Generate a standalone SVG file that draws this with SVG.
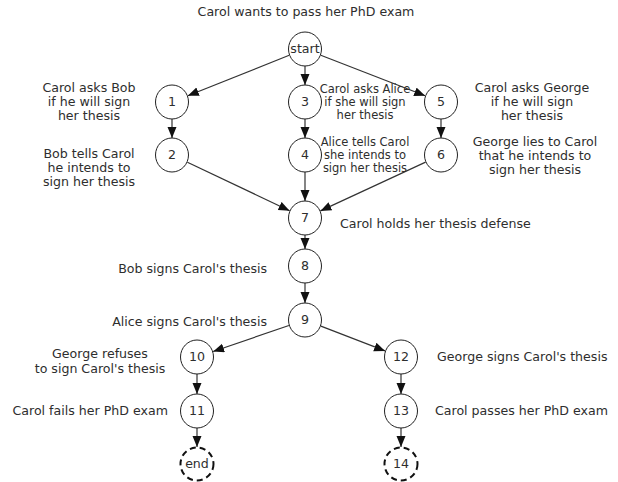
<svg xmlns="http://www.w3.org/2000/svg" width="618" height="482" viewBox="0 0 618 482">
<style>
text{font-family:"DejaVu Sans","Liberation Sans",sans-serif;font-size:12.6px;fill:#2e2e2e}
.c{text-anchor:middle}
.s{font-size:11.5px}
.n{fill:#fff;stroke:#222;stroke-width:1}
.d{fill:#fff;stroke:#111;stroke-width:2;stroke-dasharray:6 4}
.e{stroke:#333;stroke-width:1.2;fill:none;marker-end:url(#ah)}
</style>
<defs>
<marker id="ah" markerUnits="userSpaceOnUse" markerWidth="12" markerHeight="10" refX="11" refY="4.5" orient="auto">
<path d="M0,0 L11,4.5 L0,9 Z" fill="#111"/>
</marker>
</defs>
<rect width="618" height="482" fill="#fff"/>
<text class="c" x="306" y="16">Carol wants to pass her PhD exam</text>
<g id="edges">
<path class="e" d="M289.2,55.3 L187.8,95.7"/>
<path class="e" d="M305,66 L305,85"/>
<path class="e" d="M320.8,55.2 L425.2,95.8"/>
<path class="e" d="M172,119 L172,138"/>
<path class="e" d="M305,119 L305,138"/>
<path class="e" d="M441,119 L441,138"/>
<path class="e" d="M187.4,162.3 L289.6,210.7"/>
<path class="e" d="M305,172 L305,201"/>
<path class="e" d="M425.6,162.1 L320.4,210.9"/>
<path class="e" d="M305,235 L305,249"/>
<path class="e" d="M305,283 L305,303"/>
<path class="e" d="M288.9,325.5 L213.1,351.5"/>
<path class="e" d="M320.9,326.1 L385.1,350.9"/>
<path class="e" d="M197,374 L197,394"/>
<path class="e" d="M401,374 L401,394"/>
<path class="e" d="M197,428 L197,447"/>
<path class="e" d="M401,428 L401,447"/>
</g>
<g id="start"><ellipse class="n" cx="305" cy="49" rx="16.5" ry="17"/><text class="c" x="305" y="53">start</text></g>
<g id="n1"><ellipse class="n" cx="172" cy="102" rx="16.5" ry="17"/><text class="c" x="172" y="106">1</text>
<text class="c" x="89" y="92">Carol asks Bob</text><text class="c" x="89" y="106">if he will sign</text><text class="c" x="89" y="120">her thesis</text></g>
<g id="n3"><ellipse class="n" cx="305" cy="102" rx="16.5" ry="17"/><text class="c" x="305" y="106">3</text>
<text class="c s" x="365" y="93">Carol asks Alice</text><text class="c s" x="365" y="106">if she will sign</text><text class="c s" x="365" y="119">her thesis</text></g>
<g id="n5"><ellipse class="n" cx="441" cy="102" rx="16.5" ry="17"/><text class="c" x="441" y="106">5</text>
<text class="c" x="532" y="92">Carol asks George</text><text class="c" x="532" y="106">if he will sign</text><text class="c" x="532" y="120">her thesis</text></g>
<g id="n2"><ellipse class="n" cx="172" cy="155" rx="16.5" ry="17"/><text class="c" x="172" y="159">2</text>
<text class="c" x="89" y="158">Bob tells Carol</text><text class="c" x="89" y="172">he intends to</text><text class="c" x="89" y="186">sign her thesis</text></g>
<g id="n4"><ellipse class="n" cx="305" cy="155" rx="16.5" ry="17"/><text class="c" x="305" y="159">4</text>
<text class="c s" x="365" y="146">Alice tells Carol</text><text class="c s" x="365" y="159">she intends to</text><text class="c s" x="365" y="172">sign her thesis</text></g>
<g id="n6"><ellipse class="n" cx="441" cy="155" rx="16.5" ry="17"/><text class="c" x="441" y="159">6</text>
<text class="c" x="535" y="146">George lies to Carol</text><text class="c" x="535" y="160">that he intends to</text><text class="c" x="535" y="174">sign her thesis</text></g>
<g id="n7"><ellipse class="n" cx="305" cy="218" rx="16.5" ry="17"/><text class="c" x="305" y="222">7</text>
<text x="340" y="228">Carol holds her thesis defense</text></g>
<g id="n8"><ellipse class="n" cx="305" cy="266" rx="16.5" ry="17"/><text class="c" x="305" y="270">8</text>
<text x="267" y="273" text-anchor="end">Bob signs Carol's thesis</text></g>
<g id="n9"><ellipse class="n" cx="305" cy="320" rx="16.5" ry="17"/><text class="c" x="305" y="324">9</text>
<text x="267" y="326" text-anchor="end">Alice signs Carol's thesis</text></g>
<g id="n10"><ellipse class="n" cx="197" cy="357" rx="16.5" ry="17"/><text class="c" x="197" y="361">10</text>
<text class="c" x="100" y="358">George refuses</text><text class="c" x="100" y="373">to sign Carol's thesis</text></g>
<g id="n12"><ellipse class="n" cx="401" cy="357" rx="16.5" ry="17"/><text class="c" x="401" y="361">12</text>
<text x="437" y="361">George signs Carol's thesis</text></g>
<g id="n11"><ellipse class="n" cx="197" cy="411" rx="16.5" ry="17"/><text class="c" x="197" y="415">11</text>
<text x="168" y="415" text-anchor="end">Carol fails her PhD exam</text></g>
<g id="n13"><ellipse class="n" cx="401" cy="411" rx="16.5" ry="17"/><text class="c" x="401" y="415">13</text>
<text x="435" y="415">Carol passes her PhD exam</text></g>
<g id="end"><ellipse class="d" cx="197" cy="464" rx="16.5" ry="16.5"/><text class="c" x="197" y="468">end</text></g>
<g id="n14"><ellipse class="d" cx="401" cy="464" rx="16.5" ry="16.5"/><text class="c" x="401" y="468">14</text></g>
</svg>
